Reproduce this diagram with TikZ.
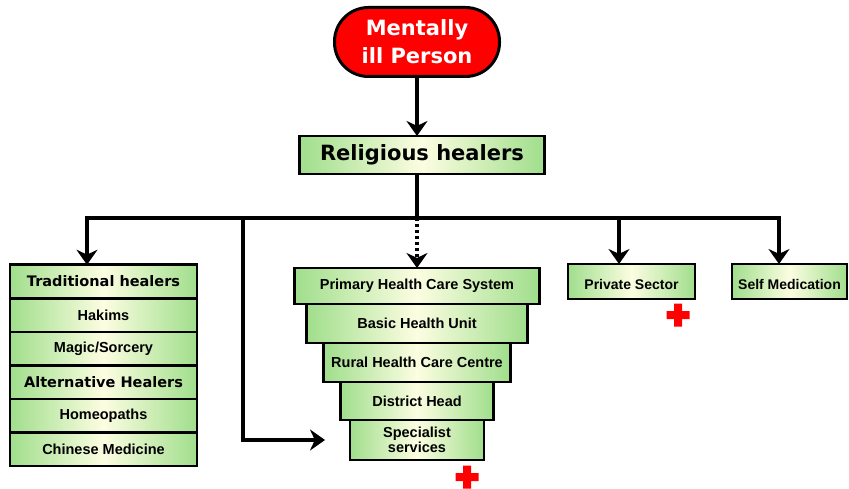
\documentclass[tikz,border=0pt]{standalone}
\usepackage{fontspec}
\setmainfont{Liberation Sans}
\newfontfamily\headfont{DejaVu Sans}
\usetikzlibrary{arrows.meta,positioning}
\definecolor{hgreen}{RGB}{160,222,140}
\definecolor{hpale}{RGB}{252,253,225}
\definecolor{plusred}{RGB}{255,0,0}
\newcommand{\redplus}[1]{\fill[plusred,shift={#1}] (-11.5,-4) rectangle (11.5,4) (-4,-11.5) rectangle (4,11.5);}

\begin{document}
\begin{tikzpicture}[%
  x=1pt,y=-1pt,
  box/.style={rectangle,draw,line width=2.5pt,left color=hgreen,right color=hgreen,
    middle color=hpale,inner sep=0pt,outer sep=0pt,align=center,
    font=\bfseries\fontsize{14.5}{13}\selectfont},
  head/.style={box,font=\headfont\bfseries\fontsize{14.5}{16}\selectfont},
  stack/.style={box,minimum width=187pt,minimum height=33.5pt},
  side/.style={box,minimum height=35pt,text height=16pt,text depth=0pt,
    font=\bfseries\fontsize{14}{13}\selectfont},
  person/.style={rectangle,draw,line width=3pt,rounded corners=34pt,fill=red,text=white,
    align=center,minimum width=165pt,minimum height=69pt,
    font=\headfont\bfseries\fontsize{21}{28}\selectfont},
  conn/.style={line width=3.8pt},
  arr/.style={conn,-{Stealth[length=15pt,width=21pt]}}]
    \useasboundingbox (0,0) rectangle (849,489);
    % Top
    \node[person] (ill) at (417,42) {Mentally\\ill Person};
    \node[head,minimum width=245pt,minimum height=38pt,
      font=\headfont\bfseries\fontsize{21}{22}\selectfont] (rel) at (422,155) {Religious healers};
    % Left stack
    \node[stack,head] (trad) at (103.5,281.5) {Traditional healers};
    \node[stack,below=0pt of trad] (hakims) {Hakims};
    \node[stack,below=0pt of hakims] (magic) {Magic/Sorcery};
    \node[stack,head,below=0pt of magic] (alt) {Alternative Healers};
    \node[stack,below=0pt of alt] (homeo) {Homeopaths};
    \node[stack,below=0pt of homeo] (chinese) {Chinese Medicine};
    % Health care pyramid
    \node[box,minimum width=245pt,minimum height=36pt] (prim) at (417,286) {Primary Health Care System};
    \node[box,minimum width=221pt,minimum height=39pt,below=0pt of prim] (bhu) {Basic Health Unit};
    \node[box,minimum width=187pt,minimum height=39pt,below=0pt of bhu] (rural) {Rural Health Care Centre};
    \node[box,minimum width=153pt,minimum height=38pt,below=0pt of rural] (dist) {District Head};
    \node[box,minimum width=134pt,minimum height=40pt,below=0pt of dist] (spec) {Specialist\\services};
    % Right side
    \node[side,minimum width=127pt] (priv) at (631.5,281.5) {Private Sector};
    \node[side,minimum width=115pt] (self) at (789.5,281.5) {Self Medication};
    % Connectors
    \coordinate (hub) at (417,218);
    \coordinate (tl) at (87,218);
    \coordinate (tm) at (243,218);
    \coordinate (tp) at (619,218);
    \coordinate (tr) at (779,218);
    \draw[arr] (ill.south) -- (ill.south |- rel.north);
    \draw[conn] (rel.south -| hub) -- (hub);
    \draw[arr] (hub) -| (tl |- trad.north);
    \draw[arr] (hub) -| (tr |- self.north);
    \draw[arr] (tp) -- (tp |- priv.north);
    \draw[arr,dash pattern=on 3pt off 3pt] (hub) -- (prim.north);
    \draw[arr,shorten >=25pt] (tm) |- (spec.west);
    % Red crosses
    \redplus{(467,477)}
    \redplus{(678,315)}
\end{tikzpicture}
\end{document}
